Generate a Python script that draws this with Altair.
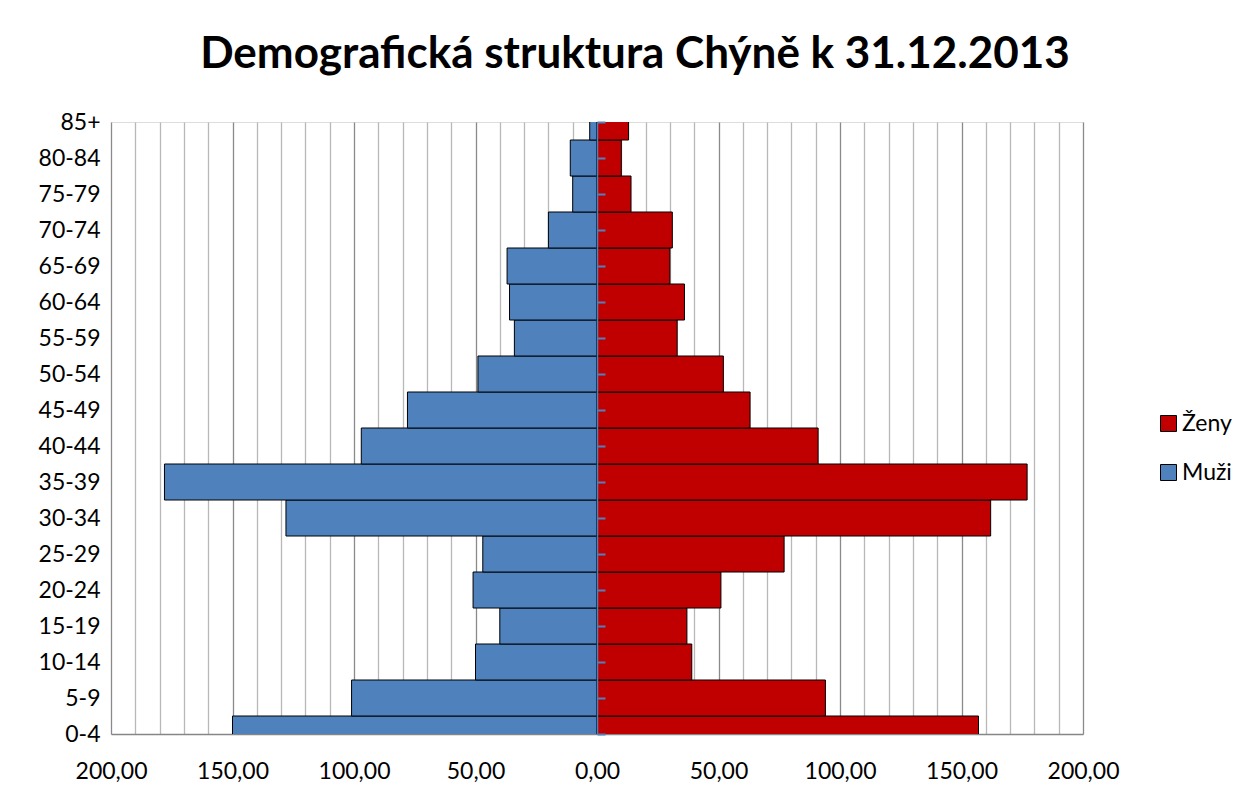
import altair as alt
import pandas as pd

groups = ["0-4", "5-9", "10-14", "15-19", "20-24", "25-29", "30-34", "35-39",
          "40-44", "45-49", "50-54", "55-59", "60-64", "65-69", "70-74",
          "75-79", "80-84", "85+"]
muzi = [150, 101, 50, 40, 51, 47, 128, 178, 97, 78, 49, 34, 36, 37, 20, 10, 11, 3]
zeny = [157, 94, 39, 37, 51, 77, 162, 177, 91, 63, 52, 33, 36, 30, 31, 14, 10, 13]
series = ["Ženy", "Muži"]
colors = ["#C00000", "#4F81BD"]
x_ticks = list(range(-200, 201, 10))

rows = []
for g, m, z in zip(groups, muzi, zeny):
    rows.append({"vek": g, "pohlavi": "Muži", "hodnota": -m})
    rows.append({"vek": g, "pohlavi": "Ženy", "hodnota": z})
df = pd.DataFrame(rows)

order = list(reversed(groups))
FONT = "Lato"
W, H = 972, 612

xscale = alt.Scale(domain=[-200, 200], nice=False, zero=False)
yscale = alt.Scale(type="point", padding=0, domain=order)

x_axis = alt.Axis(
    values=x_ticks,
    labelExpr="datum.value % 50 === 0 ? replace(format(abs(datum.value), '.2f'), '.', ',') : ''",
    ticks=False, labelFlush=False, labelOverlap=False,
    gridColor={"condition": {"test": "datum.value % 50 === 0", "value": "#8A8A8A"}, "value": "#B8B8B8"},
    gridWidth=1.3,
    domainColor="#868686", domainWidth=1.5,
    labelFont=FONT, labelFontSize=23, labelColor="black", labelPadding=26,
    title=None,
)

y_axis = alt.Axis(
    domain=False, ticks=False, grid=False,
    labelFont=FONT, labelFontSize=23, labelColor="black", labelPadding=11,
    title=None,
)

bars = alt.Chart(df).mark_bar(height=36, stroke="black", strokeWidth=1, clip=True).encode(
    x=alt.X("hodnota:Q", scale=xscale, axis=x_axis),
    y=alt.Y("vek:N", scale=yscale, sort=order, axis=y_axis),
    color=alt.Color(
        "pohlavi:N",
        scale=alt.Scale(domain=series, range=colors),
        legend=alt.Legend(
            orient="none", legendX=1046, legendY=290, title=None,
            symbolType="square", symbolSize=256, symbolStrokeColor="black",
            symbolStrokeWidth=1, symbolOpacity=1,
            labelFont=FONT, labelFontSize=23, labelColor="black",
            rowPadding=25, labelOffset=2,
        ),
    ),
)

center_axis = alt.Chart(df).mark_point(opacity=0).encode(
    x=alt.X("hodnota:Q", scale=xscale, axis=x_axis),
    y=alt.Y("vek:N", scale=yscale, sort=order, axis=alt.Axis(
        orient="right", offset=-W / 2, labels=False, ticks=True,
        tickColor="#4F81BD", tickSize=8, tickWidth=2,
        domainColor="#4F81BD", domainWidth=1.5, grid=False, title=None, zindex=1,
    )),
)

chart = alt.layer(bars, center_axis).resolve_scale(y="independent").properties(
    width=W, height=H,
    autosize=alt.AutoSizeParams(type="none"),
    padding={"left": 103, "top": 114, "right": 161, "bottom": 50},
    title=alt.TitleParams(
        text="Demografická struktura Chýně k 31.12.2013",
        font=FONT, fontSize=44, fontWeight="bold", color="black",
        anchor="middle", frame="group", baseline="alphabetic", offset=-1, dx=38,
    ),
).configure_view(strokeWidth=0).configure(background="white")

chart.save("out.html", embed_options={"renderer": "svg", "actions": False})
